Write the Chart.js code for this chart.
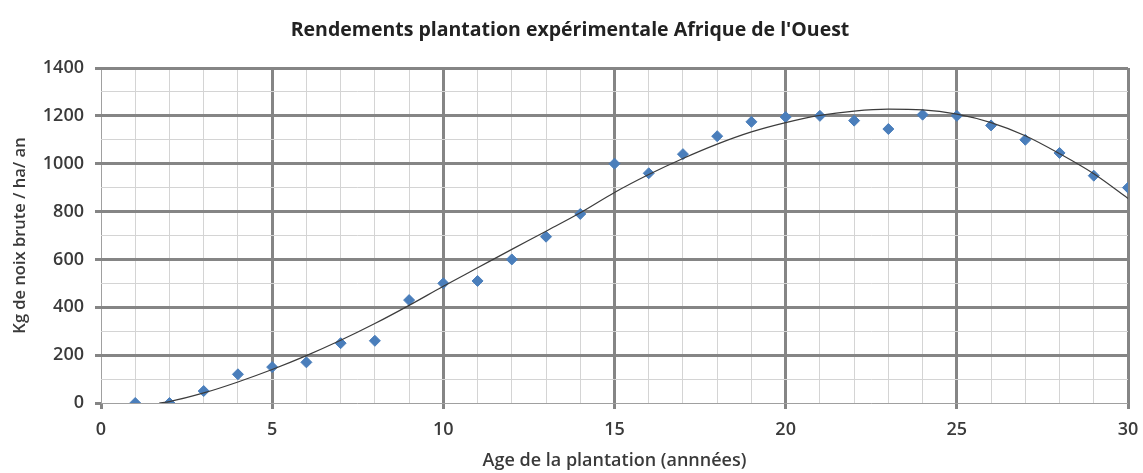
<!DOCTYPE html>
<html>
<head>
<meta charset="utf-8">
<script src="https://cdn.jsdelivr.net/npm/chart.js@4.4.0/dist/chart.umd.min.js"></script>
<style>
  html, body { margin: 0; padding: 0; background: #fff; }
  #wrap { width: 1143px; height: 473px; position: relative; }
</style>
</head>
<body>
<div id="wrap"><canvas id="chart"></canvas></div>
<script>
// values
const ages = [1, 2, 3, 4, 5, 6, 7, 8, 9, 10, 11, 12, 13, 14, 15, 16, 17, 18, 19, 20, 21, 22, 23, 24, 25, 26, 27, 28, 29, 30];
const yields = [0, 0, 50, 120, 150, 170, 250, 260, 430, 500, 510, 600, 695, 790, 1000, 960, 1040, 1115, 1175, 1195, 1200, 1180, 1145, 1205, 1200, 1160, 1100, 1045, 950, 900];

// trend curve as seen on the picture
const trendAges = [1.7, 2, 3, 4, 5, 6, 7, 8, 9, 10, 11, 12, 13, 14, 15, 16, 17, 18, 19, 20, 21, 22, 23, 24, 25, 26, 27, 28, 29, 30];
const trendValues = [0, 6, 42, 88, 140, 198, 262, 332, 408, 488, 565, 642, 718, 795, 880, 955, 1022, 1082, 1133, 1172, 1202, 1220, 1228, 1225, 1207, 1172, 1117, 1042, 958, 855];

const chartTitle = "Rendements plantation expérimentale Afrique de l'Ouest";
const xTitle = "Age de la plantation (annnées)";
const yTitle = "Kg de noix brute / ha/ an";

const majorColor = '#858585';
const minorColor = '#d4d4d4';
const textColor = '#3a3a3a';
const fontFamily = "'Open Sans', 'DejaVu Sans', sans-serif";

const toPoints = (xs, ys) => xs.map((x, i) => ({ x: x, y: ys[i] }));

const titlePlugin = {
    id: 'topTitle',
    afterDraw(chart) {
        const ctx = chart.ctx;
        ctx.save();
        ctx.font = "bold 19.5px " + fontFamily;
        ctx.fillStyle = '#222';
        ctx.textAlign = 'center';
        ctx.textBaseline = 'middle';
        ctx.fillText(chartTitle, 570, 30);
        ctx.restore();
    }
};

function gridColor(ctx, step) {
    const v = ctx.tick.value;
    if (v === 0) return '#a0a0a0';
    return v % step === 0 ? majorColor : minorColor;
}
function gridWidth(ctx, step) {
    const v = ctx.tick.value;
    if (v === 0) return 1;
    return v % step === 0 ? 3 : 1;
}

new Chart(document.getElementById('chart'), {
    type: 'scatter',
    data: {
        datasets: [
            {
                label: 'Tendance',
                type: 'line',
                data: toPoints(trendAges, trendValues),
                borderColor: '#3c3c3c',
                borderWidth: 1.2,
                pointRadius: 0,
                cubicInterpolationMode: 'monotone',
                fill: false,
                order: 1
            },
            {
                label: 'Rendement',
                data: toPoints(ages, yields),
                pointStyle: 'rectRot',
                pointRadius: 5.5,
                backgroundColor: '#4a7ebb',
                borderColor: '#4a7ebb',
                borderWidth: 1,
                order: 2
            }
        ]
    },
    options: {
        responsive: true,
        maintainAspectRatio: false,
        animation: false,
        layout: { padding: { top: 68, right: 15, bottom: 0, left: 0 } },
        plugins: {
            legend: { display: false },
            title: { display: false },
            tooltip: { enabled: false }
        },
        scales: {
            x: {
                type: 'linear',
                min: 0,
                max: 30,
                border: { display: false },
                afterFit: (scale) => {
                    scale.height = 70;
                    scale.paddingRight = 0;
                    scale.paddingLeft = 0;
                },
                ticks: {
                    stepSize: 1,
                    autoSkip: false,
                    maxRotation: 0,
                    padding: 10,
                    color: textColor,
                    font: { family: fontFamily, size: 18, weight: '600' },
                    callback: (v) => (v % 5 === 0 ? v : '')
                },
                grid: {
                    color: (ctx) => gridColor(ctx, 5),
                    lineWidth: (ctx) => gridWidth(ctx, 5),
                    tickLength: 6,
                    tickColor: (ctx) => (ctx.tick.value % 5 === 0 ? majorColor : 'rgba(0,0,0,0)'),
                    tickWidth: 3
                },
                title: {
                    display: true,
                    text: xTitle,
                    color: textColor,
                    font: { family: fontFamily, size: 18, weight: '600' },
                    padding: { top: 0, bottom: 1 }
                }
            },
            y: {
                type: 'linear',
                min: 0,
                max: 1400,
                border: { display: false },
                afterFit: (scale) => { scale.width = 101; },
                ticks: {
                    stepSize: 100,
                    autoSkip: false,
                    padding: 11,
                    color: textColor,
                    font: { family: fontFamily, size: 18, weight: '600' },
                    callback: (v) => (v % 200 === 0 ? v : '')
                },
                grid: {
                    color: (ctx) => gridColor(ctx, 200),
                    lineWidth: (ctx) => gridWidth(ctx, 200),
                    tickLength: 6,
                    tickColor: (ctx) => (ctx.tick.value % 200 === 0 ? majorColor : 'rgba(0,0,0,0)'),
                    tickWidth: 3
                },
                title: {
                    display: true,
                    text: yTitle,
                    color: textColor,
                    font: { family: fontFamily, size: 16.5, weight: '600' },
                    padding: { top: 10, bottom: 0 }
                }
            }
        }
    },
    plugins: [titlePlugin]
});
</script>
</body>
</html>
